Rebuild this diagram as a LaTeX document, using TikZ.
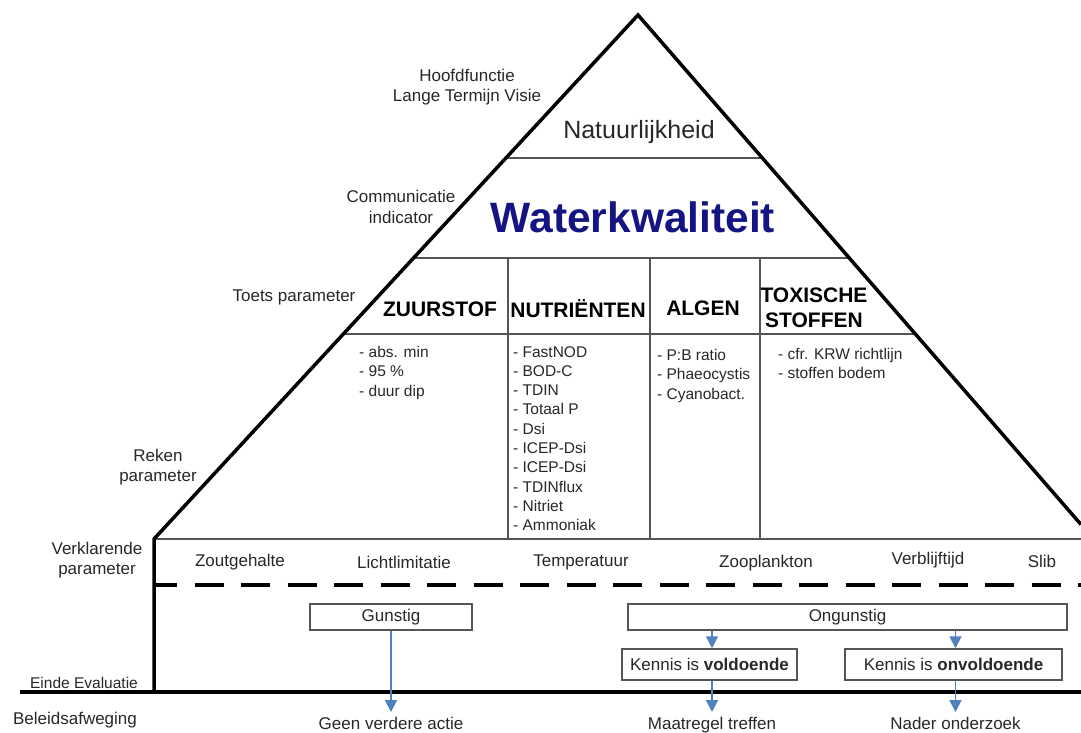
\documentclass[tikz,border=0pt]{standalone}
\usepackage{fontspec}
\setmainfont{Liberation Sans}
\usetikzlibrary{arrows.meta,calc}
\definecolor{navy}{RGB}{20,20,130}
\definecolor{arrblue}{RGB}{79,129,189}
\definecolor{txt}{RGB}{40,40,40}
\definecolor{thingray}{RGB}{85,85,85}
\begin{document}
\begin{tikzpicture}[x=1bp,y=-1bp,
  thickline/.style={line width=3.5bp, black},
  thinline/.style={line width=1.6bp, thingray},
  lbl/.style={text=txt, font=\fontsize{17bp}{20.5bp}\selectfont, align=center, inner sep=0},
  small/.style={text=txt, font=\fontsize{15.5bp}{19.3bp}\selectfont, align=left, inner sep=0, anchor=north west},
  head/.style={text=black, font=\fontsize{21bp}{25bp}\selectfont\bfseries, align=center, inner sep=0},
  evbox/.style={draw=thingray, line width=1.5bp, fill=white, text=txt, font=\fontsize{17bp}{20bp}\selectfont, inner sep=0, minimum height=26bp},
  arr/.style={draw=arrblue, line width=1.8bp, -{Triangle[length=12bp,width=12bp]}},
]
\useasboundingbox (0,0) rectangle (1081,733);
\fill[white] (0,0) rectangle (1081,733);

% key points of the pyramid
\coordinate (apex) at (638,15);
\coordinate (bl) at (154,539);
\coordinate (br) at (1081,524.5);
\coordinate (floorR) at (1081,539);
\coordinate (bot) at (154,692);
\coordinate (base0) at (20,692);
\coordinate (base1) at (1081,692);
\coordinate (dash0) at (154,585);
\coordinate (dash1) at (1081,585);

% thin inner lines
\draw[thinline] ($(apex)!0.27290!(bl)$) -- ($(apex)!0.28067!(br)$);
\draw[thinline] ($(apex)!0.46374!(bl)$) -- ($(apex)!0.47694!(br)$);
\draw[thinline] ($(apex)!0.60878!(bl)$) -- ($(apex)!0.62610!(br)$);
\draw[thinline] (508,258) -- (508,539);
\draw[thinline] (650,258) -- (650,539);
\draw[thinline] (760,258) -- (760,539);
\draw[thinline] (bl) -- (floorR);

% thick outline
\draw[thickline, line join=miter] (br) -- (apex) -- (bl) -- (bot);
\draw[thickline] (base0) -- (base1);
\draw[thickline, dash pattern=on 29bp off 17.5bp, dash phase=6bp] (dash0) -- (dash1);

% side labels
\node[lbl] (hoofd) at (467,87) {Hoofdfunctie\\Lange Termijn Visie};
\node[lbl] (comm) at (401,207) {Communicatie\\indicator};
\node[lbl] (toets) at (294,297) {Toets parameter};
\node[lbl] (reken) at (158,467) {Reken\\parameter};
\node[lbl] (verkl) at (97,560) {Verklarende\\parameter};
\node[lbl, font=\fontsize{15.5bp}{19bp}\selectfont] (einde) at (84,683) {Einde Evaluatie};
\node[lbl] (beleid) at (75,720) {Beleidsafweging};

% pyramid contents
\node[text=txt, font=\fontsize{25bp}{30bp}\selectfont, inner sep=0] (natuur) at (639,132) {Natuurlijkheid};
\node[text=navy, font=\fontsize{42.5bp}{50bp}\selectfont\bfseries, inner sep=0] (water) at (633,217) {Waterkwaliteit};

\node[head] (zuur) at (440,309) {ZUURSTOF};
\node[head] (nutr) at (578,309) {NUTRIËNTEN};
\node[head] (algen) at (703,308) {ALGEN};
\node[head] (tox) at (814,308) {TOXISCHE\\STOFFEN};

\node[small] (l1) at (359,346) {- abs. min\\- 95 \%\\- duur dip};
\node[small] (l2) at (513,346) {- FastNOD\\- BOD-C\\- TDIN\\- Totaal P\\- Dsi\\- ICEP-Dsi\\- ICEP-Dsi\\- TDINflux\\- Nitriet\\- Ammoniak};
\node[small] (l3) at (657,349) {- P:B ratio\\- Phaeocystis\\- Cyanobact.};
\node[small] (l4) at (778,348) {- cfr. KRW richtlijn\\- stoffen bodem};

% explanatory parameters
\node[lbl] (zout) at (240,562) {Zoutgehalte};
\node[lbl] (licht) at (404,562) {Lichtlimitatie};
\node[lbl] (temp) at (581,562) {Temperatuur};
\node[lbl] (zoo) at (766,563) {Zooplankton};
\node[lbl] (verbl) at (928,560) {Verblijftijd};
\node[lbl] (slib) at (1042,561) {Slib};

% evaluation boxes
\node[evbox, minimum width=162bp] (gun) at (391,617) {Gunstig};
\node[evbox, minimum width=439bp] (ong) at (847.5,617) {Ongunstig};
\node[evbox, minimum width=175bp, minimum height=31bp] (vold) at (709.5,664.5) {Kennis is \textbf{voldoende}};
\node[evbox, minimum width=217bp, minimum height=31bp] (onvold) at (953.5,664.5) {Kennis is \textbf{onvoldoende}};

% outcomes
\node[lbl, anchor=north] (geen) at (391,717) {Geen verdere actie};
\node[lbl, anchor=north] (maat) at (712,717) {Maatregel treffen};
\node[lbl, anchor=north] (nader) at (955.5,717) {Nader onderzoek};

% arrows
\draw[arr, shorten >=5bp] (gun.south) -- (geen.north);
\draw[arr] (ong.south -| maat.north) -- (maat.north |- vold.north);
\draw[arr] (ong.south -| nader.north) -- (nader.north |- onvold.north);
\draw[arr, shorten >=5bp] (maat.north |- vold.south) -- (maat.north);
\draw[arr, shorten >=5bp] (nader.north |- onvold.south) -- (nader.north);
\end{tikzpicture}
\end{document}
